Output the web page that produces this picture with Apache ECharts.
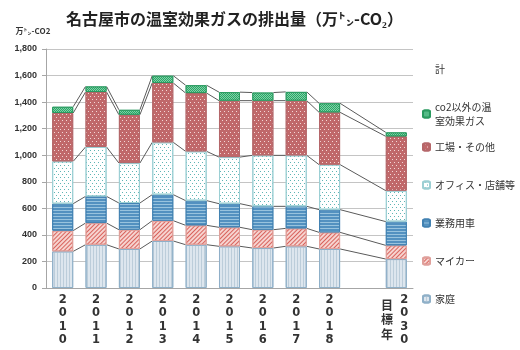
<!DOCTYPE html>
<html><head><meta charset="utf-8">
<script src="https://cdn.jsdelivr.net/npm/echarts@6/dist/echarts.min.js"></script>
<style>html,body{margin:0;padding:0;background:#fff}#c{width:520px;height:350px}</style>
</head><body><div id="c"></div>
<script>
// ---- data ----
const categories = ['2010','2011','2012','2013','2014','2015','2016','2017','2018','','2030'];
const targetLabel = '目標年';
const katei  = [276,326,294,354,326,314,301,314,294,null,218];
const mycar  = [156,163,145,153,146,143,138,135,125,null,103];
const gyomu  = [203,201,201,196,186,178,176,166,171,null,179];
const office = [319,372,301,394,371,351,384,384,339,null,233];
const kojo   = [364,414,364,447,439,425,412,412,394,null,409];
const other  = [47,42,37,55,59,64,61,66,68,null,30];
const totals = [1365,1518,1342,1599,1527,1475,1472,1477,1391,null,1172];
const names = ['家庭','マイカー','業務用車','オフィス・店舗等','工場・その他','co2以外の温室効果ガス'];
const totalName = '計';
const yMin = 0, yMax = 1800, yStep = 200;

// ---- build ----
const BAR_FRAC = 0.63;
const stacks = [katei, mycar, gyomu, office, kojo, other];
const present = categories.map((c,i)=>katei[i]!=null);
const idx = categories.map((c,i)=>i).filter(i=>present[i]);
const linkData = [];
let cum = categories.map(()=>0);
stacks.forEach(arr=>{
  cum = cum.map((v,i)=>v+(arr[i]||0));
  for (let j=0;j<idx.length-1;j++) linkData.push([idx[j], cum[idx[j]], idx[j+1], cum[idx[j+1]]]);
});

const styles = [
  {color:'#dde6ee', border:'#8fb0c8', decal:{symbol:'rect', symbolSize:1, color:'#bccdda', dashArrayX:[1,2], dashArrayY:[4,0], rotation:0}},
  {color:'#f6d3cf', border:'#e0a09b', decal:{symbol:'rect', symbolSize:1, color:'#d8625c', dashArrayX:[4,0], dashArrayY:[1,2], rotation:-Math.PI/4}},
  {color:'#5391c0', border:'#4282b2', decal:{symbol:'rect', symbolSize:1, color:'#98c3de', dashArrayX:[4,0], dashArrayY:[1,2], rotation:0}},
  {color:'#ffffff', border:'#9ccfd4', decal:{symbol:'rect', symbolSize:1, color:'#5fb5b5', dashArrayX:[[1,3],[0,2,1,1]], dashArrayY:[1,1.5], rotation:0}},
  {color:'#c0686a', border:'#b5676a', decal:{symbol:'rect', symbolSize:1, color:'#f3d6d6', dashArrayX:[[1,3],[0,2,1,1]], dashArrayY:[1,1.5], rotation:0}},
  {color:'#2ca468', border:'#2a9a60', decal:{symbol:'rect', symbolSize:1, color:'#7fd3a6', dashArrayX:[[1,1],[0,1,1,0]], dashArrayY:[1,0], rotation:0}}
];

const series = stacks.map((arr,k)=>({
  name: names[k], type:'bar', stack:'t', barWidth: (BAR_FRAC*100)+'%',
  data: arr,
  itemStyle:{color:styles[k].color, borderColor:styles[k].border, borderWidth:1, decal:styles[k].decal}
}));
series.push({
  name: totalName, type:'line', data: totals, symbol:'none', silent:true,
  lineStyle:{opacity:0}, itemStyle:{color:'rgba(0,0,0,0)'},
  label:{show:true, position:'top', distance:5, formatter:p=>p.value.toLocaleString('en-US'),
    fontFamily:'Liberation Sans', fontWeight:'bold', fontSize:8.5, color:'#333'}
});
series.push({
  type:'custom', silent:true, z:1, data: linkData, encode:{x:[0,2], y:[1,3]},
  renderItem:(params, api)=>{
    const p1 = api.coord([api.value(0), api.value(1)]);
    const p2 = api.coord([api.value(2), api.value(3)]);
    const half = api.size([1,0])[0]*BAR_FRAC/2;
    return {type:'line', shape:{x1:p1[0]+half, y1:p1[1], x2:p2[0]-half, y2:p2[1]},
      style:{stroke:'#5a5a5a', lineWidth:1}};
  }
});

const chart = echarts.init(document.getElementById('c'));
const legendText = {fontFamily:'Noto Sans CJK JP', fontSize:10, color:'#333', lineHeight:14};
chart.setOption({
  animation:false,
  aria:{enabled:true, decal:{show:true}},
  title:{text:'名古屋市の温室効果ガスの排出量（万㌧-CO₂）', left:66, top:11, padding:0,
    textStyle:{fontFamily:'Noto Sans CJK JP', fontWeight:'bold', fontSize:16, color:'#222'}},
  grid:{left:46, right:107, top:49, bottom:62, outerBoundsMode:'none'},
  legend:[
    {orient:'vertical', left:422, top:62, padding:0, itemWidth:7, itemHeight:7, itemGap:24, itemTextGap:4,
     textStyle:legendText,
     formatter:n=> n===names[5] ? 'co2以外の温\n室効果ガス' : n,
     data:[{name:totalName, icon:'rect', itemStyle:{color:'rgba(0,0,0,0)', borderWidth:0, decal:'none'}}, names[5]]},
    {orient:'vertical', left:422, top:140, padding:0, itemWidth:7, itemHeight:7, itemGap:24, itemTextGap:4,
     textStyle:legendText,
     data:[names[4], names[3], names[2], names[1], names[0]]}
  ],
  xAxis:{type:'category', data:categories,
    axisLine:{lineStyle:{color:'#a6a6a6'}}, axisTick:{show:false},
    axisLabel:{interval:0, margin:5, fontFamily:'DejaVu Sans', fontWeight:'bold', fontSize:11.5, lineHeight:13.5, color:'#333',
      formatter:(v,i)=>{
        if (v==='') return '{s| }\n' + targetLabel.split('').map(c=>'{k|'+c+'}').join('\n');
        if (i===categories.length-1) return v.split('').map(c=>'{p|'+c+'}').join('\n');
        return v.split('').join('\n');
      },
      rich:{
        s:{fontSize:1, lineHeight:5, padding:[0,0,0,48]},
        k:{fontFamily:'Noto Sans CJK JP', fontWeight:'bold', fontSize:12, lineHeight:14.5, color:'#333', padding:[0,0,0,48]},
        p:{fontFamily:'DejaVu Sans', fontWeight:'bold', fontSize:11.5, lineHeight:13.5, color:'#333', padding:[0,0,0,16]}
      }}
  },
  yAxis:{type:'value', min:yMin, max:yMax, interval:yStep,
    name:'万㌧-CO2', nameLocation:'end', nameGap:14,
    nameTextStyle:{fontFamily:'Noto Sans CJK JP', fontWeight:'bold', fontSize:8, color:'#333', align:'center', padding:[0,26,0,0]},
    axisLine:{show:true, lineStyle:{color:'#a6a6a6'}},
    axisTick:{show:true, length:4, lineStyle:{color:'#a6a6a6'}},
    splitLine:{lineStyle:{color:'#c4c4c4'}},
    axisLabel:{margin:9, fontFamily:'Liberation Sans', fontWeight:'bold', fontSize:9, color:'#333',
      formatter:v=>v.toLocaleString('en-US')}
  },
  series
});
</script></body></html>
